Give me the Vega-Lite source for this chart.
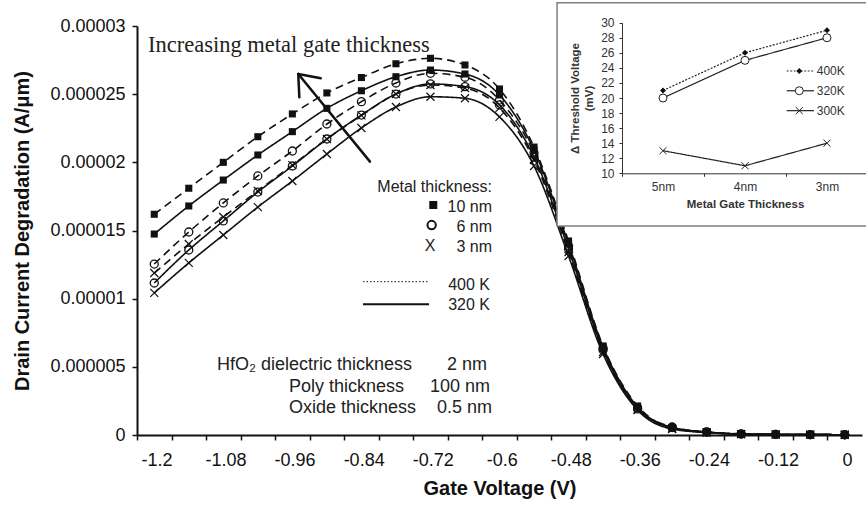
{
  "$schema": "https://vega.github.io/schema/vega-lite/v6.json",
  "width": 725,
  "height": 409,
  "autosize": {"type": "none"},
  "padding": {"left": 137, "top": 26, "right": 4, "bottom": 72},
  "background": "white",
  "config": {"view": {"stroke": null}, "font": "Liberation Sans"},
  "datasets": {
    "main": [
      {"V":-1.2,"I":1.619e-5,"metal":"10 nm","T":"400 K"},{"V":-1.14,"I":1.810e-5,"metal":"10 nm","T":"400 K"},{"V":-1.08,"I":2.000e-5,"metal":"10 nm","T":"400 K"},{"V":-1.02,"I":2.188e-5,"metal":"10 nm","T":"400 K"},{"V":-0.96,"I":2.355e-5,"metal":"10 nm","T":"400 K"},{"V":-0.9,"I":2.509e-5,"metal":"10 nm","T":"400 K"},{"V":-0.84,"I":2.622e-5,"metal":"10 nm","T":"400 K"},{"V":-0.78,"I":2.723e-5,"metal":"10 nm","T":"400 K"},{"V":-0.72,"I":2.763e-5,"metal":"10 nm","T":"400 K"},{"V":-0.66,"I":2.714e-5,"metal":"10 nm","T":"400 K"},{"V":-0.6,"I":2.538e-5,"metal":"10 nm","T":"400 K"},{"V":-0.54,"I":2.112e-5,"metal":"10 nm","T":"400 K"},{"V":-0.48,"I":1.423e-5,"metal":"10 nm","T":"400 K"},{"V":-0.42,"I":6.53e-6,"metal":"10 nm","T":"400 K"},{"V":-0.36,"I":2.13e-6,"metal":"10 nm","T":"400 K"},{"V":-0.3,"I":5.5e-7,"metal":"10 nm","T":"400 K"},{"V":-0.24,"I":2.2e-7,"metal":"10 nm","T":"400 K"},{"V":-0.18,"I":8e-8,"metal":"10 nm","T":"400 K"},{"V":-0.12,"I":4e-8,"metal":"10 nm","T":"400 K"},{"V":-0.06,"I":3e-8,"metal":"10 nm","T":"400 K"},{"V":0,"I":2e-8,"metal":"10 nm","T":"400 K"},
      {"V":-1.2,"I":1.474e-5,"metal":"10 nm","T":"320 K"},{"V":-1.14,"I":1.680e-5,"metal":"10 nm","T":"320 K"},{"V":-1.08,"I":1.870e-5,"metal":"10 nm","T":"320 K"},{"V":-1.02,"I":2.054e-5,"metal":"10 nm","T":"320 K"},{"V":-0.96,"I":2.225e-5,"metal":"10 nm","T":"320 K"},{"V":-0.9,"I":2.396e-5,"metal":"10 nm","T":"320 K"},{"V":-0.84,"I":2.525e-5,"metal":"10 nm","T":"320 K"},{"V":-0.78,"I":2.628e-5,"metal":"10 nm","T":"320 K"},{"V":-0.72,"I":2.677e-5,"metal":"10 nm","T":"320 K"},{"V":-0.66,"I":2.648e-5,"metal":"10 nm","T":"320 K"},{"V":-0.6,"I":2.494e-5,"metal":"10 nm","T":"320 K"},{"V":-0.54,"I":2.090e-5,"metal":"10 nm","T":"320 K"},{"V":-0.48,"I":1.401e-5,"metal":"10 nm","T":"320 K"},{"V":-0.42,"I":6.45e-6,"metal":"10 nm","T":"320 K"},{"V":-0.36,"I":2.05e-6,"metal":"10 nm","T":"320 K"},{"V":-0.3,"I":5.1e-7,"metal":"10 nm","T":"320 K"},{"V":-0.24,"I":2.0e-7,"metal":"10 nm","T":"320 K"},{"V":-0.18,"I":7e-8,"metal":"10 nm","T":"320 K"},{"V":-0.12,"I":4e-8,"metal":"10 nm","T":"320 K"},{"V":-0.06,"I":3e-8,"metal":"10 nm","T":"320 K"},{"V":0,"I":2e-8,"metal":"10 nm","T":"320 K"},
      {"V":-1.2,"I":1.254e-5,"metal":"6 nm","T":"400 K"},{"V":-1.14,"I":1.489e-5,"metal":"6 nm","T":"400 K"},{"V":-1.08,"I":1.702e-5,"metal":"6 nm","T":"400 K"},{"V":-1.02,"I":1.900e-5,"metal":"6 nm","T":"400 K"},{"V":-0.96,"I":2.083e-5,"metal":"6 nm","T":"400 K"},{"V":-0.9,"I":2.281e-5,"metal":"6 nm","T":"400 K"},{"V":-0.84,"I":2.445e-5,"metal":"6 nm","T":"400 K"},{"V":-0.78,"I":2.582e-5,"metal":"6 nm","T":"400 K"},{"V":-0.72,"I":2.653e-5,"metal":"6 nm","T":"400 K"},{"V":-0.66,"I":2.624e-5,"metal":"6 nm","T":"400 K"},{"V":-0.6,"I":2.457e-5,"metal":"6 nm","T":"400 K"},{"V":-0.54,"I":2.068e-5,"metal":"6 nm","T":"400 K"},{"V":-0.48,"I":1.386e-5,"metal":"6 nm","T":"400 K"},{"V":-0.42,"I":6.38e-6,"metal":"6 nm","T":"400 K"},{"V":-0.36,"I":1.98e-6,"metal":"6 nm","T":"400 K"},{"V":-0.3,"I":5.9e-7,"metal":"6 nm","T":"400 K"},{"V":-0.24,"I":2.3e-7,"metal":"6 nm","T":"400 K"},{"V":-0.18,"I":8e-8,"metal":"6 nm","T":"400 K"},{"V":-0.12,"I":4e-8,"metal":"6 nm","T":"400 K"},{"V":-0.06,"I":3e-8,"metal":"6 nm","T":"400 K"},{"V":0,"I":2e-8,"metal":"6 nm","T":"400 K"},
      {"V":-1.2,"I":1.115e-5,"metal":"6 nm","T":"320 K"},{"V":-1.14,"I":1.357e-5,"metal":"6 nm","T":"320 K"},{"V":-1.08,"I":1.570e-5,"metal":"6 nm","T":"320 K"},{"V":-1.02,"I":1.782e-5,"metal":"6 nm","T":"320 K"},{"V":-0.96,"I":1.973e-5,"metal":"6 nm","T":"320 K"},{"V":-0.9,"I":2.171e-5,"metal":"6 nm","T":"320 K"},{"V":-0.84,"I":2.347e-5,"metal":"6 nm","T":"320 K"},{"V":-0.78,"I":2.501e-5,"metal":"6 nm","T":"320 K"},{"V":-0.72,"I":2.575e-5,"metal":"6 nm","T":"320 K"},{"V":-0.66,"I":2.555e-5,"metal":"6 nm","T":"320 K"},{"V":-0.6,"I":2.421e-5,"metal":"6 nm","T":"320 K"},{"V":-0.54,"I":2.039e-5,"metal":"6 nm","T":"320 K"},{"V":-0.48,"I":1.364e-5,"metal":"6 nm","T":"320 K"},{"V":-0.42,"I":6.23e-6,"metal":"6 nm","T":"320 K"},{"V":-0.36,"I":1.91e-6,"metal":"6 nm","T":"320 K"},{"V":-0.3,"I":5.5e-7,"metal":"6 nm","T":"320 K"},{"V":-0.24,"I":2.1e-7,"metal":"6 nm","T":"320 K"},{"V":-0.18,"I":7e-8,"metal":"6 nm","T":"320 K"},{"V":-0.12,"I":4e-8,"metal":"6 nm","T":"320 K"},{"V":-0.06,"I":3e-8,"metal":"6 nm","T":"320 K"},{"V":0,"I":2e-8,"metal":"6 nm","T":"320 K"},
      {"V":-1.2,"I":1.188e-5,"metal":"3 nm","T":"400 K"},{"V":-1.14,"I":1.401e-5,"metal":"3 nm","T":"400 K"},{"V":-1.08,"I":1.599e-5,"metal":"3 nm","T":"400 K"},{"V":-1.02,"I":1.790e-5,"metal":"3 nm","T":"400 K"},{"V":-0.96,"I":1.980e-5,"metal":"3 nm","T":"400 K"},{"V":-0.9,"I":2.171e-5,"metal":"3 nm","T":"400 K"},{"V":-0.84,"I":2.344e-5,"metal":"3 nm","T":"400 K"},{"V":-0.78,"I":2.501e-5,"metal":"3 nm","T":"400 K"},{"V":-0.72,"I":2.567e-5,"metal":"3 nm","T":"400 K"},{"V":-0.66,"I":2.545e-5,"metal":"3 nm","T":"400 K"},{"V":-0.6,"I":2.399e-5,"metal":"3 nm","T":"400 K"},{"V":-0.54,"I":2.017e-5,"metal":"3 nm","T":"400 K"},{"V":-0.48,"I":1.342e-5,"metal":"3 nm","T":"400 K"},{"V":-0.42,"I":6.09e-6,"metal":"3 nm","T":"400 K"},{"V":-0.36,"I":1.87e-6,"metal":"3 nm","T":"400 K"},{"V":-0.3,"I":4.8e-7,"metal":"3 nm","T":"400 K"},{"V":-0.24,"I":1.9e-7,"metal":"3 nm","T":"400 K"},{"V":-0.18,"I":6e-8,"metal":"3 nm","T":"400 K"},{"V":-0.12,"I":4e-8,"metal":"3 nm","T":"400 K"},{"V":-0.06,"I":3e-8,"metal":"3 nm","T":"400 K"},{"V":0,"I":2e-8,"metal":"3 nm","T":"400 K"},
      {"V":-1.2,"I":1.042e-5,"metal":"3 nm","T":"320 K"},{"V":-1.14,"I":1.262e-5,"metal":"3 nm","T":"320 K"},{"V":-1.08,"I":1.467e-5,"metal":"3 nm","T":"320 K"},{"V":-1.02,"I":1.672e-5,"metal":"3 nm","T":"320 K"},{"V":-0.96,"I":1.863e-5,"metal":"3 nm","T":"320 K"},{"V":-0.9,"I":2.061e-5,"metal":"3 nm","T":"320 K"},{"V":-0.84,"I":2.252e-5,"metal":"3 nm","T":"320 K"},{"V":-0.78,"I":2.406e-5,"metal":"3 nm","T":"320 K"},{"V":-0.72,"I":2.481e-5,"metal":"3 nm","T":"320 K"},{"V":-0.66,"I":2.470e-5,"metal":"3 nm","T":"320 K"},{"V":-0.6,"I":2.333e-5,"metal":"3 nm","T":"320 K"},{"V":-0.54,"I":1.973e-5,"metal":"3 nm","T":"320 K"},{"V":-0.48,"I":1.313e-5,"metal":"3 nm","T":"320 K"},{"V":-0.42,"I":5.94e-6,"metal":"3 nm","T":"320 K"},{"V":-0.36,"I":1.83e-6,"metal":"3 nm","T":"320 K"},{"V":-0.3,"I":4.4e-7,"metal":"3 nm","T":"320 K"},{"V":-0.24,"I":1.8e-7,"metal":"3 nm","T":"320 K"},{"V":-0.18,"I":6e-8,"metal":"3 nm","T":"320 K"},{"V":-0.12,"I":4e-8,"metal":"3 nm","T":"320 K"},{"V":-0.06,"I":3e-8,"metal":"3 nm","T":"320 K"},{"V":0,"I":2e-8,"metal":"3 nm","T":"320 K"}
    ],
    "inset": [
      {"thk":"5nm","temp":"400K","dv":21},{"thk":"4nm","temp":"400K","dv":26},{"thk":"3nm","temp":"400K","dv":29},
      {"thk":"5nm","temp":"320K","dv":20},{"thk":"4nm","temp":"320K","dv":25},{"thk":"3nm","temp":"320K","dv":28},
      {"thk":"5nm","temp":"300K","dv":13},{"thk":"4nm","temp":"300K","dv":11},{"thk":"3nm","temp":"300K","dv":14}
    ],
    "notes": [
      {"kind":"serif","label":"Increasing metal gate thickness","ax":-1.2109,"ay":2.811e-5},
      {"kind":"leg","label":"Metal thickness:","ax":-0.613,"ay":1.785e-5},
      {"kind":"leg","label":"10 nm","ax":-0.613,"ay":1.638e-5},
      {"kind":"leg","label":"6 nm","ax":-0.613,"ay":1.491e-5},
      {"kind":"leg","label":"3 nm","ax":-0.613,"ay":1.345e-5},
      {"kind":"leg","label":"400 K","ax":-0.6165,"ay":1.064e-5},
      {"kind":"leg","label":"320 K","ax":-0.6165,"ay":9.17e-6},
      {"kind":"xmark","label":"X","ax":-0.7208,"ay":1.389e-5},
      {"kind":"parR","label":"HfO₂ dielectric thickness","ax":-0.7521,"ay":4.77e-6},
      {"kind":"parL","label":"Poly thickness","ax":-0.9658,"ay":3.13e-6},
      {"kind":"parL","label":"Oxide thickness","ax":-0.9658,"ay":1.59e-6},
      {"kind":"parR","label":"2 nm","ax":-0.6217,"ay":4.77e-6},
      {"kind":"parR","label":"100 nm","ax":-0.6165,"ay":3.13e-6},
      {"kind":"parR","label":"0.5 nm","ax":-0.613,"ay":1.59e-6},
      {"kind":"ileg","label":"400K","ax":-0.0487,"ay":2.670e-5},
      {"kind":"ileg","label":"320K","ax":-0.0487,"ay":2.525e-5},
      {"kind":"ileg","label":"300K","ax":-0.0487,"ay":2.379e-5}
    ],
    "segs": [
      {"kind":"arrow","ax":-0.8251,"ay":2.005e-5,"bx":-0.9497,"by":2.648e-5},
      {"kind":"arrow","ax":-0.9497,"ay":2.648e-5,"bx":-0.9107,"by":2.616e-5},
      {"kind":"arrow","ax":-0.9497,"ay":2.648e-5,"bx":-0.9479,"by":2.477e-5},
      {"kind":"dot","ax":-0.8372,"ay":1.1245e-5,"bx":-0.7225,"by":1.1245e-5},
      {"kind":"solid","ax":-0.8372,"ay":9.587e-6,"bx":-0.7225,"by":9.587e-6},
      {"kind":"idot","ax":-0.1009,"ay":2.670e-5,"bx":-0.0534,"by":2.670e-5},
      {"kind":"isolid","ax":-0.1009,"ay":2.525e-5,"bx":-0.0534,"by":2.525e-5},
      {"kind":"isolid","ax":-0.1009,"ay":2.379e-5,"bx":-0.0534,"by":2.379e-5}
    ],
    "syms": [
      {"kind":"sq","ax":-0.7151,"ay":1.687e-5},
      {"kind":"circ","ax":-0.7179,"ay":1.540e-5},
      {"kind":"dia","ax":-0.079,"ay":2.670e-5},
      {"kind":"icirc","ax":-0.079,"ay":2.525e-5},
      {"kind":"ix","ax":-0.079,"ay":2.379e-5}
    ],
    "box": [{"ax":-0.5,"bx":0.06,"ay":3.171e-5,"by":1.533e-5}]
  },
  "layer": [
    {
      "encoding": {
        "x": {"field": "V", "type": "quantitative", "title": "Gate Voltage (V)",
          "scale": {"domain": [-1.23, 0.03], "nice": false, "zero": false},
          "axis": {"values": [-1.2,-1.14,-1.08,-1.02,-0.96,-0.9,-0.84,-0.78,-0.72,-0.66,-0.6,-0.54,-0.48,-0.42,-0.36,-0.3,-0.24,-0.18,-0.12,-0.06,0],
            "tickOffset": -17.26, "labelOffset": 19.5,
            "labelExpr": "round(datum.value*100) % 12 == 0 ? toString(round(datum.value*100)/100) : ''",
            "labelFlush": false, "labelOverlap": false, "labelBound": false, "grid": false,
            "title": "Gate Voltage (V)", "titleFont": "Liberation Sans", "titleFontSize": 20, "titleFontWeight": "bold", "titleColor": "#111", "titlePadding": 9,
            "labelFont": "Liberation Sans", "labelFontSize": 18, "labelColor": "#111", "labelPadding": 11,
            "domainColor": "#111", "domainWidth": 2, "tickColor": "#111", "tickWidth": 1.5, "tickSize": 5}},
        "y": {"field": "I", "type": "quantitative", "title": "Drain Current Degradation (A/μm)",
          "scale": {"domain": [0, 0.00003], "nice": false, "zero": true},
          "axis": {"values": [0, 0.000005, 0.00001, 0.000015, 0.00002, 0.000025, 0.00003],
            "labelExpr": "['0','0.000005','0.00001','0.000015','0.00002','0.000025','0.00003'][round(datum.value/0.000005)]",
            "labelFlush": false, "labelOverlap": false, "grid": false,
            "title": "Drain Current Degradation (A/μm)", "titleFont": "Liberation Sans", "titleFontSize": 20, "titleFontWeight": "bold", "titleColor": "#111", "titlePadding": 17,
            "labelFont": "Liberation Sans", "labelFontSize": 18, "labelColor": "#111", "labelPadding": 7,
            "domainColor": "#111", "domainWidth": 2, "tickColor": "#111", "tickWidth": 1.5, "tickSize": 5}}
      },
      "layer": [
        {"data": {"name": "main"},
         "mark": {"type": "line", "interpolate": "monotone", "color": "#111", "strokeWidth": 1.6},
         "encoding": {"detail": {"field": "metal"},
           "strokeDash": {"field": "T", "type": "nominal", "scale": {"domain": ["400 K", "320 K"], "range": [[8, 5], [1, 0]]}, "legend": null}}},
        {"data": {"name": "main"},
         "transform": [{"filter": "datum.metal === '10 nm'"}],
         "mark": {"type": "point", "shape": "square", "filled": true, "size": 50, "color": "#111", "opacity": 1}},
        {"data": {"name": "main"},
         "transform": [{"filter": "datum.metal === '6 nm'"}],
         "mark": {"type": "point", "shape": "circle", "filled": false, "size": 64, "color": "#111", "strokeWidth": 1.3, "opacity": 1}},
        {"data": {"name": "main"},
         "transform": [{"filter": "datum.metal === '3 nm'"}],
         "mark": {"type": "point", "shape": "M-1,-1L1,1M-1,1L1,-1", "filled": false, "size": 64, "color": "#111", "strokeWidth": 1.2, "opacity": 1}},
        {"data": {"name": "box"},
         "mark": {"type": "rect", "fill": "white", "stroke": "#808080", "strokeWidth": 1.5},
         "encoding": {"x": {"field": "ax", "type": "quantitative", "title": "Gate Voltage (V)"}, "x2": {"field": "bx"},
                      "y": {"field": "ay", "type": "quantitative", "title": "Drain Current Degradation (A/μm)"}, "y2": {"field": "by"}}},
        {"data": {"name": "notes"},
         "transform": [{"filter": "datum.kind === 'serif'"}],
         "mark": {"type": "text", "font": "Liberation Serif", "fontSize": 22.5, "align": "left", "baseline": "alphabetic", "color": "#222"},
         "encoding": {"x": {"field": "ax", "type": "quantitative", "title": "Gate Voltage (V)"}, "y": {"field": "ay", "type": "quantitative", "title": "Drain Current Degradation (A/μm)"}, "text": {"field": "label"}}},
        {"data": {"name": "notes"},
         "transform": [{"filter": "datum.kind === 'leg'"}],
         "mark": {"type": "text", "fontSize": 16, "align": "right", "baseline": "alphabetic", "color": "#222"},
         "encoding": {"x": {"field": "ax", "type": "quantitative", "title": "Gate Voltage (V)"}, "y": {"field": "ay", "type": "quantitative", "title": "Drain Current Degradation (A/μm)"}, "text": {"field": "label"}}},
        {"data": {"name": "notes"},
         "transform": [{"filter": "datum.kind === 'xmark'"}],
         "mark": {"type": "text", "fontSize": 16, "align": "center", "baseline": "middle", "color": "#222"},
         "encoding": {"x": {"field": "ax", "type": "quantitative", "title": "Gate Voltage (V)"}, "y": {"field": "ay", "type": "quantitative", "title": "Drain Current Degradation (A/μm)"}, "text": {"field": "label"}}},
        {"data": {"name": "notes"},
         "transform": [{"filter": "datum.kind === 'parR'"}],
         "mark": {"type": "text", "fontSize": 18, "align": "right", "baseline": "alphabetic", "color": "#222"},
         "encoding": {"x": {"field": "ax", "type": "quantitative", "title": "Gate Voltage (V)"}, "y": {"field": "ay", "type": "quantitative", "title": "Drain Current Degradation (A/μm)"}, "text": {"field": "label"}}},
        {"data": {"name": "notes"},
         "transform": [{"filter": "datum.kind === 'parL'"}],
         "mark": {"type": "text", "fontSize": 18, "align": "left", "baseline": "alphabetic", "color": "#222"},
         "encoding": {"x": {"field": "ax", "type": "quantitative", "title": "Gate Voltage (V)"}, "y": {"field": "ay", "type": "quantitative", "title": "Drain Current Degradation (A/μm)"}, "text": {"field": "label"}}},
        {"data": {"name": "notes"},
         "transform": [{"filter": "datum.kind === 'ileg'"}],
         "mark": {"type": "text", "fontSize": 12, "align": "left", "baseline": "middle", "color": "#333"},
         "encoding": {"x": {"field": "ax", "type": "quantitative", "title": "Gate Voltage (V)"}, "y": {"field": "ay", "type": "quantitative", "title": "Drain Current Degradation (A/μm)"}, "text": {"field": "label"}}},
        {"data": {"name": "segs"},
         "transform": [{"filter": "datum.kind === 'arrow'"}],
         "mark": {"type": "rule", "color": "#111", "strokeWidth": 2.5, "strokeCap": "round"},
         "encoding": {"x": {"field": "ax", "type": "quantitative", "title": "Gate Voltage (V)"}, "y": {"field": "ay", "type": "quantitative", "title": "Drain Current Degradation (A/μm)"}, "x2": {"field": "bx"}, "y2": {"field": "by"}}},
        {"data": {"name": "segs"},
         "transform": [{"filter": "datum.kind === 'dot'"}],
         "mark": {"type": "rule", "color": "#111", "strokeWidth": 1, "strokeDash": [1.5, 2]},
         "encoding": {"x": {"field": "ax", "type": "quantitative", "title": "Gate Voltage (V)"}, "y": {"field": "ay", "type": "quantitative", "title": "Drain Current Degradation (A/μm)"}, "x2": {"field": "bx"}, "y2": {"field": "by"}}},
        {"data": {"name": "segs"},
         "transform": [{"filter": "datum.kind === 'solid'"}],
         "mark": {"type": "rule", "color": "#111", "strokeWidth": 2},
         "encoding": {"x": {"field": "ax", "type": "quantitative", "title": "Gate Voltage (V)"}, "y": {"field": "ay", "type": "quantitative", "title": "Drain Current Degradation (A/μm)"}, "x2": {"field": "bx"}, "y2": {"field": "by"}}},
        {"data": {"name": "segs"},
         "transform": [{"filter": "datum.kind === 'idot'"}],
         "mark": {"type": "rule", "color": "#333", "strokeWidth": 1, "strokeDash": [2, 1.5]},
         "encoding": {"x": {"field": "ax", "type": "quantitative", "title": "Gate Voltage (V)"}, "y": {"field": "ay", "type": "quantitative", "title": "Drain Current Degradation (A/μm)"}, "x2": {"field": "bx"}, "y2": {"field": "by"}}},
        {"data": {"name": "segs"},
         "transform": [{"filter": "datum.kind === 'isolid'"}],
         "mark": {"type": "rule", "color": "#222", "strokeWidth": 1.2},
         "encoding": {"x": {"field": "ax", "type": "quantitative", "title": "Gate Voltage (V)"}, "y": {"field": "ay", "type": "quantitative", "title": "Drain Current Degradation (A/μm)"}, "x2": {"field": "bx"}, "y2": {"field": "by"}}},
        {"data": {"name": "syms"},
         "transform": [{"filter": "datum.kind === 'sq'"}],
         "mark": {"type": "point", "shape": "square", "filled": true, "size": 64, "color": "#111", "opacity": 1},
         "encoding": {"x": {"field": "ax", "type": "quantitative", "title": "Gate Voltage (V)"}, "y": {"field": "ay", "type": "quantitative", "title": "Drain Current Degradation (A/μm)"}}},
        {"data": {"name": "syms"},
         "transform": [{"filter": "datum.kind === 'circ'"}],
         "mark": {"type": "point", "shape": "circle", "filled": false, "size": 70, "strokeWidth": 2, "color": "#111", "opacity": 1},
         "encoding": {"x": {"field": "ax", "type": "quantitative", "title": "Gate Voltage (V)"}, "y": {"field": "ay", "type": "quantitative", "title": "Drain Current Degradation (A/μm)"}}},
        {"data": {"name": "syms"},
         "transform": [{"filter": "datum.kind === 'dia'"}],
         "mark": {"type": "point", "shape": "diamond", "filled": true, "size": 36, "color": "#111", "opacity": 1},
         "encoding": {"x": {"field": "ax", "type": "quantitative", "title": "Gate Voltage (V)"}, "y": {"field": "ay", "type": "quantitative", "title": "Drain Current Degradation (A/μm)"}}},
        {"data": {"name": "syms"},
         "transform": [{"filter": "datum.kind === 'icirc'"}],
         "mark": {"type": "point", "shape": "circle", "filled": true, "fill": "white", "stroke": "#222", "strokeWidth": 1, "size": 64, "opacity": 1},
         "encoding": {"x": {"field": "ax", "type": "quantitative", "title": "Gate Voltage (V)"}, "y": {"field": "ay", "type": "quantitative", "title": "Drain Current Degradation (A/μm)"}}},
        {"data": {"name": "syms"},
         "transform": [{"filter": "datum.kind === 'ix'"}],
         "mark": {"type": "point", "shape": "M-1,-1L1,1M-1,1L1,-1", "filled": false, "size": 50, "color": "#222", "strokeWidth": 1, "opacity": 1},
         "encoding": {"x": {"field": "ax", "type": "quantitative", "title": "Gate Voltage (V)"}, "y": {"field": "ay", "type": "quantitative", "title": "Drain Current Degradation (A/μm)"}}}
      ]
    },
    {
      "data": {"name": "inset"},
      "encoding": {
        "x": {"field": "thk", "type": "nominal", "sort": null,
          "scale": {"type": "band", "domain": ["5nm", "4nm", "3nm"], "range": [485, 731], "paddingInner": 0, "paddingOuter": 0},
          "axis": {"orient": "bottom", "offset": -261.7, "zindex": 2, "tickBand": "extent", "labelAngle": 0, "grid": false,
            "labelFont": "Liberation Sans", "labelFontSize": 12, "labelColor": "#333", "labelPadding": 5,
            "tickSize": 3, "tickColor": "#333", "domainColor": "#333", "domainWidth": 1,
            "title": "Metal Gate Thickness", "titleFont": "Liberation Sans", "titleFontSize": 11.5, "titleFontWeight": "bold", "titleColor": "#333", "titlePadding": 6}},
        "y": {"field": "dv", "type": "quantitative",
          "scale": {"domain": [10, 30], "range": [147.3, -3.3], "nice": false, "zero": false},
          "axis": {"orient": "left", "offset": -485, "zindex": 2, "values": [10,12,14,16,18,20,22,24,26,28,30], "grid": false, "labelFlush": false, "labelOverlap": false,
            "labelFont": "Liberation Sans", "labelFontSize": 12, "labelColor": "#333", "labelPadding": 5,
            "tickSize": 3, "tickColor": "#333", "domainColor": "#333", "domainWidth": 1,
            "title": ["Δ Threshold Voltage", "(mV)"], "titleFont": "Liberation Sans", "titleFontSize": 11.5, "titleFontWeight": "bold", "titleColor": "#333", "titlePadding": 6, "titleLineHeight": 14}}
      },
      "layer": [
        {"mark": {"type": "line", "color": "#222", "strokeWidth": 1.2},
         "encoding": {"detail": {"field": "temp"},
           "strokeDash": {"field": "temp", "type": "nominal", "scale": {"domain": ["400K", "320K", "300K"], "range": [[2, 1.5], [1, 0], [1, 0]]}, "legend": null}}},
        {"transform": [{"filter": "datum.temp === '400K'"}],
         "mark": {"type": "point", "shape": "diamond", "filled": true, "size": 36, "color": "#111", "opacity": 1}},
        {"transform": [{"filter": "datum.temp === '320K'"}],
         "mark": {"type": "point", "shape": "circle", "filled": true, "fill": "white", "stroke": "#222", "strokeWidth": 1, "size": 64, "opacity": 1}},
        {"transform": [{"filter": "datum.temp === '300K'"}],
         "mark": {"type": "point", "shape": "M-1,-1L1,1M-1,1L1,-1", "filled": false, "size": 50, "color": "#222", "strokeWidth": 1, "opacity": 1}}
      ]
    }
  ],
  "resolve": {"scale": {"x": "independent", "y": "independent", "strokeDash": "independent"}}
}
